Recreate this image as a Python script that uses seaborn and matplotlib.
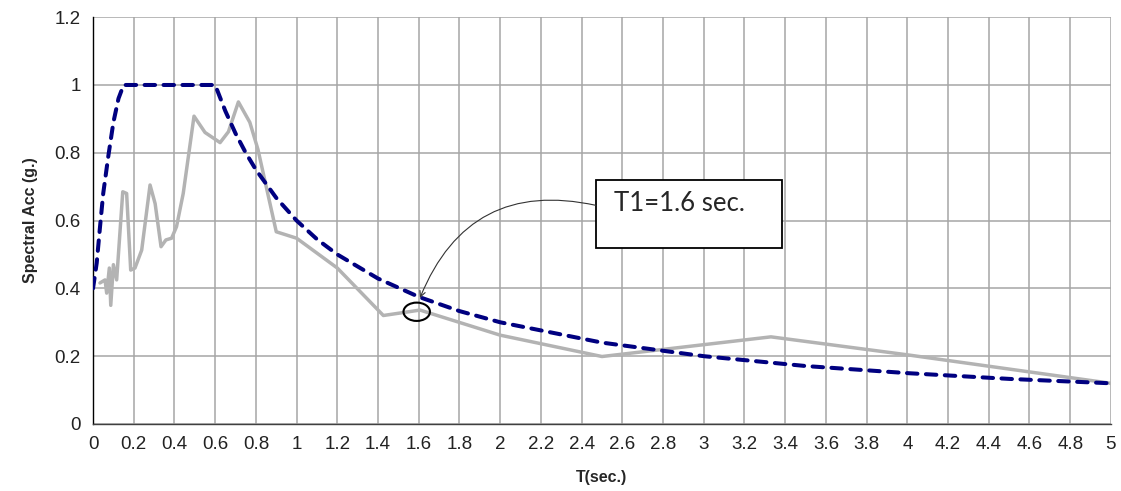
import matplotlib
matplotlib.use("Agg")
import matplotlib.pyplot as plt
from matplotlib.patches import Ellipse, Rectangle
import numpy as np
import pandas as pd
import seaborn as sns

# Design spectrum (dashed blue)
design_T = [0.0, 0.018, 0.034, 0.05, 0.075, 0.1, 0.125, 0.15, 0.6, 0.65, 0.7, 0.75,
            0.8, 0.9, 1.0, 1.1, 1.2, 1.4, 1.6, 1.8, 2.0, 2.5, 3.0, 3.5, 4.0, 4.5, 5.0]
design_Sa = [0.40, 0.475, 0.58, 0.68, 0.79, 0.89, 0.96, 1.0, 1.0, 0.923, 0.857, 0.80,
             0.75, 0.667, 0.60, 0.545, 0.50, 0.429, 0.375, 0.333, 0.30, 0.24, 0.20,
             0.171, 0.15, 0.133, 0.12]

# Record spectrum (grey)
rec_T = [0.034, 0.059, 0.067, 0.080, 0.087, 0.100, 0.116, 0.146, 0.165, 0.185, 0.206,
         0.239, 0.280, 0.305, 0.334, 0.358, 0.386, 0.410, 0.443, 0.496, 0.550, 0.624,
         0.665, 0.714, 0.770, 0.810, 0.900, 1.000, 1.200, 1.426, 1.606, 2.000, 2.500,
         3.330, 4.000, 5.000]
rec_Sa = [0.416, 0.425, 0.386, 0.460, 0.350, 0.470, 0.425, 0.685, 0.680, 0.454, 0.460,
          0.513, 0.705, 0.650, 0.523, 0.543, 0.548, 0.582, 0.680, 0.908, 0.860, 0.830,
          0.862, 0.950, 0.890, 0.810, 0.567, 0.548, 0.460, 0.320, 0.336, 0.262, 0.199,
          0.257, 0.204, 0.120]

x_ticks = [round(0.2 * i, 1) for i in range(26)]
x_labels = ["0", "0.2", "0.4", "0.6", "0.8", "1", "1.2", "1.4", "1.6", "1.8", "2",
            "2.2", "2.4", "2.6", "2.8", "3", "3.2", "3.4", "3.6", "3.8", "4",
            "4.2", "4.4", "4.6", "4.8", "5"]
y_ticks = [0, 0.2, 0.4, 0.6, 0.8, 1.0, 1.2]
y_labels = ["0", "0.2", "0.4", "0.6", "0.8", "1", "1.2"]

annot_text = "T1=1.6 sec."

sns.set_style("white")
plt.rcParams['font.family'] = ['Liberation Sans', 'DejaVu Sans']

fig = plt.figure(figsize=(11.21, 4.91), dpi=100)
ax = fig.add_axes([0.083, 0.1365, 0.908, 0.8285])

df_rec = pd.DataFrame({"T": rec_T, "Sa": rec_Sa})
df_des = pd.DataFrame({"T": design_T, "Sa": design_Sa})

sns.lineplot(data=df_rec, x="T", y="Sa", ax=ax, color="#b3b3b3", linewidth=2.5,
             sort=False, estimator=None, zorder=3)
sns.lineplot(data=df_des, x="T", y="Sa", ax=ax, color="#000080", linewidth=2.9,
             sort=False, estimator=None, zorder=4)
ax.lines[-1].set_dashes((2.6, 2.1))
ax.lines[-1].set_dash_capstyle("round")

ax.set_xlim(0, 5)
ax.set_ylim(0, 1.2)
ax.set_xticks(x_ticks)
ax.set_xticklabels(x_labels)
ax.set_yticks(y_ticks)
ax.set_yticklabels(y_labels)
ax.grid(True, color="#a6a6a6", linewidth=1.1)
ax.set_axisbelow(True)
for s in ["top", "right"]:
    ax.spines[s].set_visible(False)
ax.spines["left"].set_color("black")
ax.spines["bottom"].set_color("#404040")
ax.spines["left"].set_linewidth(1.0)
ax.spines["bottom"].set_linewidth(1.0)
ax.tick_params(axis="both", direction="out", length=5, width=1, color="#404040",
               labelsize=13.5, labelcolor="#222222", pad=4)
ax.set_xlabel("T(sec.)", fontsize=11.5, fontweight="bold", labelpad=12)
ax.set_ylabel("Spectral Acc (g.)", fontsize=11.5, fontweight="bold", labelpad=12)

# annotation
ax.add_patch(Rectangle((2.47, 0.519), 0.914, 0.201, facecolor="white",
                       edgecolor="black", linewidth=1.3, zorder=6))
ax.text(2.56, 0.650, annot_text, fontsize=18.5, family=["Lato", "DejaVu Sans"],
        va="center", ha="left", zorder=7)
ax.annotate("", xy=(1.606, 0.372), xytext=(2.47, 0.645),
            arrowprops=dict(arrowstyle="->", color="#333333", lw=0.8,
                            connectionstyle="arc3,rad=0.42", shrinkA=0, shrinkB=0),
            zorder=6)
ax.add_patch(Ellipse((1.59, 0.331), 0.13, 0.054, facecolor="none",
                     edgecolor="black", linewidth=1.5, zorder=6))

fig.savefig("out.png", dpi=100)
